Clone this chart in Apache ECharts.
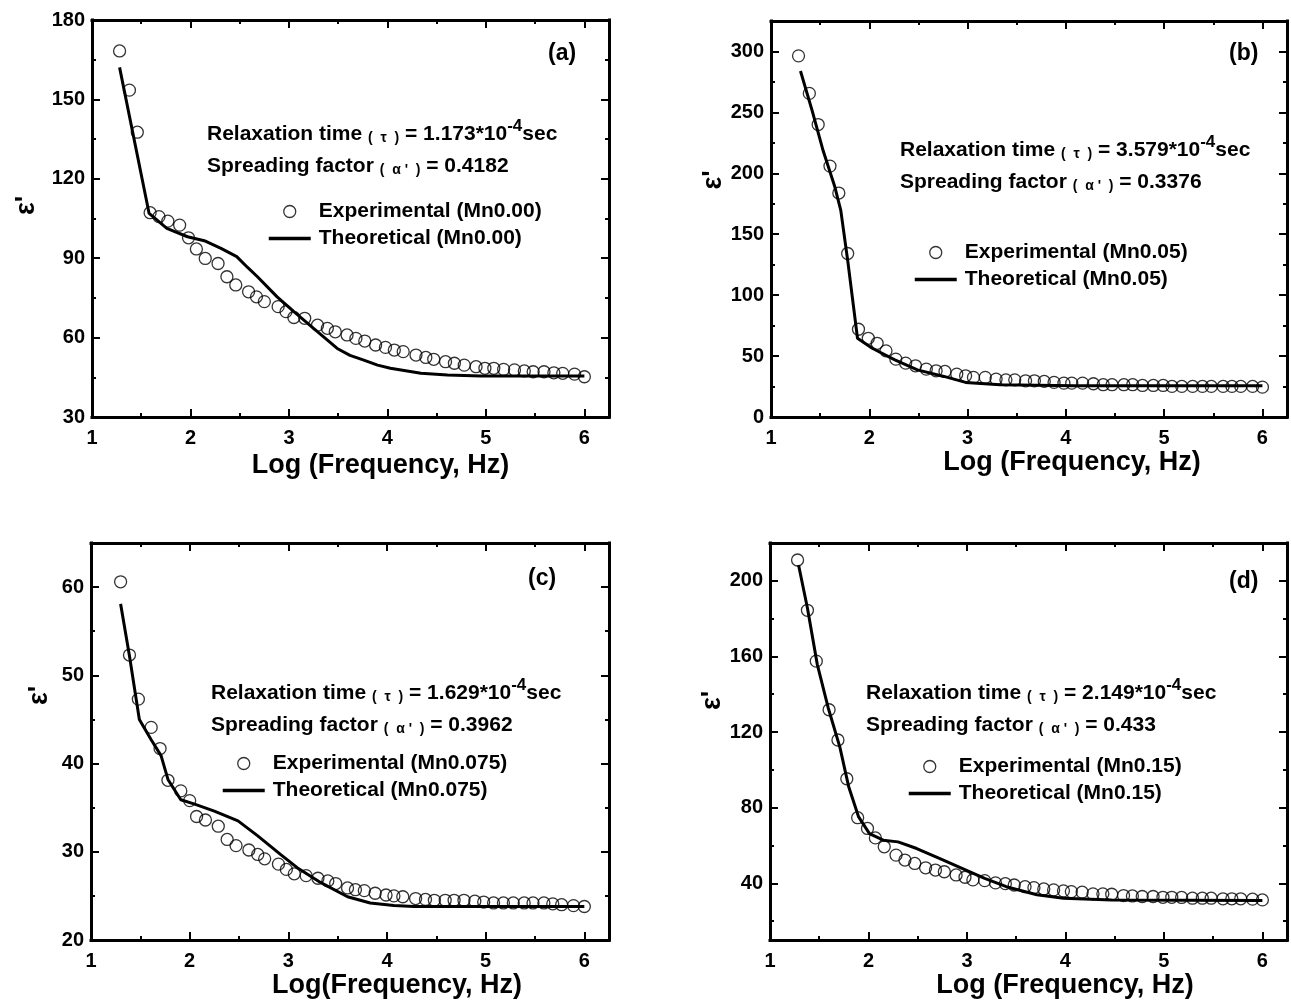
<!DOCTYPE html>
<html><head><meta charset="utf-8">
<script src="https://cdn.jsdelivr.net/npm/echarts@6/dist/echarts.min.js"></script>
<style>html,body{margin:0;padding:0;background:#fff}#c{width:1291px;height:1006px}</style>
</head><body><div id="c"></div>
<script>
// ---------- data ----------
const xTickLabels = [1, 2, 3, 4, 5, 6];
const xMinorTicks = [1.5, 2.5, 3.5, 4.5, 5.5];

const aYTicks = [30, 60, 90, 120, 150, 180];
const aYMinor = [45, 75, 105, 135, 165];
const bYTicks = [0, 50, 100, 150, 200, 250, 300];
const bYMinor = [25, 75, 125, 175, 225, 275];
const cYTicks = [20, 30, 40, 50, 60];
const cYMinor = [25, 35, 45, 55];
const dYTicks = [40, 80, 120, 160, 200];
const dYMinor = [20, 60, 100, 140, 180];

const aExpX = [1.28,1.38,1.46,1.59,1.68,1.77,1.89,1.98,2.06,2.15,2.28,2.37,2.46,2.59,2.67,2.75,2.89,2.97,3.05,3.16,3.29,3.39,3.47,3.59,3.68,3.77,3.88,3.98,4.07,4.16,4.29,4.39,4.47,4.59,4.68,4.78,4.90,4.99,5.08,5.18,5.29,5.39,5.48,5.59,5.69,5.78,5.90,6.00];
const aExpY = [168.3,153.5,137.6,107.2,105.7,104.0,102.5,97.7,93.5,89.9,88.0,83.0,79.9,77.3,75.4,73.6,71.7,69.8,67.6,67.3,64.7,63.5,62.2,61.0,59.7,58.7,57.2,56.3,55.3,54.7,53.4,52.5,51.8,50.9,50.3,49.6,49.0,48.4,48.4,48.0,47.8,47.4,47.1,47.1,46.7,46.5,46.2,45.2];
const aTheoX = [1.28,1.58,1.76,1.97,2.14,2.31,2.47,2.58,2.68,2.88,3.05,3.25,3.49,3.62,3.76,3.90,4.03,4.34,4.61,4.95,6.00];
const aTheoY = [162.1,106.9,101.3,98.1,96.6,93.7,90.6,86.5,83.0,75.4,69.8,63.5,55.9,53.3,51.5,49.6,48.4,46.5,45.9,45.5,45.5];

const bExpX = [1.28,1.39,1.48,1.60,1.69,1.78,1.89,1.99,2.08,2.17,2.27,2.37,2.47,2.58,2.68,2.77,2.89,2.98,3.06,3.18,3.29,3.39,3.48,3.59,3.68,3.78,3.88,3.98,4.06,4.17,4.28,4.38,4.47,4.59,4.68,4.78,4.89,4.99,5.08,5.18,5.29,5.39,5.48,5.60,5.69,5.78,5.90,6.00];
const bExpY = [296.4,265.6,240.0,205.9,183.8,134.2,72.0,64.6,60.5,54.3,47.5,44.2,42.0,39.3,37.9,37.4,35.2,33.8,32.5,32.5,31.1,30.5,30.5,29.7,29.7,29.2,28.4,27.8,27.8,27.8,27.3,26.5,26.5,26.5,26.5,25.9,25.9,25.9,25.1,25.1,25.1,25.1,25.1,25.1,25.1,25.1,25.1,24.5];
const bTheoX = [1.30,1.42,1.53,1.65,1.71,1.78,1.88,2.03,2.26,2.49,2.76,2.98,3.33,4.09,6.00];
const bTheoY = [284.0,251.0,218.7,188.7,169.6,128.7,64.6,56.4,46.9,38.7,33.3,28.4,26.5,25.6,25.6];

const cExpX = [1.30,1.39,1.48,1.61,1.70,1.78,1.91,2.00,2.07,2.16,2.29,2.38,2.47,2.60,2.69,2.76,2.90,2.98,3.06,3.18,3.30,3.40,3.48,3.60,3.68,3.77,3.88,3.99,4.07,4.16,4.29,4.39,4.48,4.59,4.68,4.78,4.89,4.98,5.08,5.18,5.28,5.39,5.48,5.59,5.68,5.77,5.89,6.00];
const cExpY = [60.6,52.3,47.3,44.1,41.7,38.1,36.9,35.8,34.0,33.6,32.9,31.4,30.7,30.2,29.7,29.2,28.6,28.0,27.5,27.3,27.0,26.7,26.4,25.9,25.7,25.6,25.3,25.1,25.0,24.9,24.7,24.6,24.5,24.5,24.5,24.5,24.4,24.3,24.2,24.2,24.2,24.2,24.2,24.2,24.1,24.0,23.9,23.8];
const cTheoX = [1.30,1.39,1.49,1.61,1.71,1.78,1.91,2.05,2.25,2.49,2.69,2.92,3.09,3.33,3.60,3.83,4.07,4.27,6.00];
const cTheoY = [58.1,52.2,45.0,42.7,40.9,38.2,35.9,35.4,34.6,33.5,31.8,29.7,28.2,26.5,24.9,24.2,23.9,23.8,23.8];

const dExpX = [1.28,1.38,1.47,1.60,1.69,1.78,1.89,1.99,2.07,2.16,2.28,2.37,2.47,2.58,2.68,2.77,2.89,2.98,3.06,3.18,3.29,3.39,3.48,3.59,3.68,3.78,3.88,3.98,4.06,4.17,4.28,4.38,4.47,4.59,4.68,4.78,4.89,4.99,5.08,5.18,5.29,5.39,5.48,5.60,5.69,5.78,5.90,6.00];
const dExpY = [211.0,184.4,157.5,131.8,115.8,95.3,74.7,69.0,64.0,59.3,54.9,52.3,50.5,48.2,47.0,46.1,44.4,43.2,41.8,41.4,40.2,39.8,39.1,38.2,37.7,37.0,36.5,36.0,35.6,35.3,34.4,34.4,34.2,33.5,33.3,33.0,33.0,32.6,32.6,32.5,32.1,32.1,32.1,31.8,31.8,31.8,31.6,31.2];
const dTheoX = [1.29,1.38,1.48,1.59,1.71,1.80,1.90,2.01,2.15,2.30,2.49,2.72,2.95,3.18,3.40,3.71,3.98,4.47,6.00];
const dTheoY = [208.4,185.6,155.8,133.0,111.9,90.9,75.1,66.3,62.8,61.9,58.4,53.2,47.9,42.6,38.2,33.9,32.1,31.2,30.9];

const samples = ['Mn0.00', 'Mn0.05', 'Mn0.075', 'Mn0.15'];
const panelTags = ['(a)', '(b)', '(c)', '(d)'];
const tauValues = ['1.173', '3.579', '1.629', '2.149'];
const alphaValues = ['0.4182', '0.3376', '0.3962', '0.433'];
const xNames = ['Log (Frequency, Hz)', 'Log (Frequency, Hz)', 'Log(Frequency, Hz)', 'Log (Frequency, Hz)'];

// ---------- layout / style ----------
const FONT = '"Liberation Sans", Arial, sans-serif';
const panels = [
  { grid: {left: 92, top: 20, width: 517, height: 397}, yMin: 30, yMax: 180, yTicks: aYTicks, yMinor: aYMinor,
    ex: aExpX, ey: aExpY, tx: aTheoX, ty: aTheoY, xPad: 60, xGap: 35, yGap: 52, yPad: 26,
    tag: [548, 42], txt: [207, 118], leg: [267, 201] },
  { grid: {left: 771, top: 21, width: 516, height: 396}, yMin: 0, yMax: 325, yTicks: bYTicks, yMinor: bYMinor,
    ex: bExpX, ey: bExpY, tx: bTheoX, ty: bTheoY, xPad: 86, xGap: 32, yGap: 34, yPad: 78,
    tag: [1229, 42], txt: [900, 134], leg: [913, 242] },
  { grid: {left: 91, top: 543, width: 518, height: 397}, yMin: 20, yMax: 65, yTicks: cYTicks, yMinor: cYMinor,
    ex: cExpX, ey: cExpY, tx: cTheoX, ty: cTheoY, xPad: 94, xGap: 32, yGap: 38, yPad: 92,
    tag: [528, 567], txt: [211, 677], leg: [221, 753] },
  { grid: {left: 770, top: 543, width: 517, height: 397}, yMin: 10, yMax: 220, yTicks: dYTicks, yMinor: dYMinor,
    ex: dExpX, ey: dExpY, tx: dTheoX, ty: dTheoY, xPad: 73, xGap: 31, yGap: 35, yPad: 82,
    tag: [1229, 570], txt: [866, 677], leg: [907, 756] }
];

const lineSt = {color: '#000', width: 3, cap: 'square'};
function tick(vals, len) {
  return {show: true, inside: true, length: len, customValues: vals, lineStyle: {color: '#000', width: 2}};
}
const labelSt = {fontSize: 20, fontWeight: 'bold', color: '#000', fontFamily: FONT};

const xAxis = [], yAxis = [], series = [], title = [], legend = [];
panels.forEach((p, gi) => {
  const base = {gridIndex: gi, type: 'value', splitLine: {show: false}, axisPointer: {show: false}};
  // x axes
  xAxis.push(Object.assign({}, base, {
    position: 'bottom', min: 1, max: 6.25,
    axisLine: {show: true, onZero: false, lineStyle: lineSt},
    axisTick: tick(xTickLabels, 8),
    axisLabel: Object.assign({customValues: xTickLabels, margin: 11}, labelSt),
    name: xNames[gi], nameLocation: 'middle', nameGap: p.xGap,
    nameTextStyle: {fontSize: 27, fontWeight: 'bold', color: '#000', fontFamily: FONT, padding: [0, 0, 0, p.xPad]}
  }));
  xAxis.push(Object.assign({}, base, {position: 'bottom', min: 1, max: 6.25,
    axisLine: {show: false, onZero: false}, axisTick: tick(xMinorTicks, 4), axisLabel: {show: false}}));
  xAxis.push(Object.assign({}, base, {position: 'top', min: 1, max: 6.25,
    axisLine: {show: true, onZero: false, lineStyle: lineSt}, axisTick: tick(xTickLabels, 8), axisLabel: {show: false}}));
  xAxis.push(Object.assign({}, base, {position: 'top', min: 1, max: 6.25,
    axisLine: {show: false, onZero: false}, axisTick: tick(xMinorTicks, 4), axisLabel: {show: false}}));
  // y axes
  yAxis.push(Object.assign({}, base, {
    position: 'left', min: p.yMin, max: p.yMax,
    axisLine: {show: true, onZero: false, lineStyle: lineSt},
    axisTick: tick(p.yTicks, 8),
    axisLabel: Object.assign({customValues: p.yTicks, margin: 7}, labelSt),
    name: "ε'", nameLocation: 'middle', nameGap: p.yGap, nameRotate: 90,
    nameTextStyle: {fontSize: 27, fontWeight: 'bold', color: '#000', fontFamily: FONT, padding: [0, 0, 0, p.yPad]}
  }));
  yAxis.push(Object.assign({}, base, {position: 'left', min: p.yMin, max: p.yMax,
    axisLine: {show: false, onZero: false}, axisTick: tick(p.yMinor, 4), axisLabel: {show: false}}));
  yAxis.push(Object.assign({}, base, {position: 'right', min: p.yMin, max: p.yMax,
    axisLine: {show: true, onZero: false, lineStyle: lineSt}, axisTick: tick(p.yTicks, 8), axisLabel: {show: false}}));
  yAxis.push(Object.assign({}, base, {position: 'right', min: p.yMin, max: p.yMax,
    axisLine: {show: false, onZero: false}, axisTick: tick(p.yMinor, 4), axisLabel: {show: false}}));

  const expName = 'Experimental (' + samples[gi] + ')';
  const theoName = 'Theoretical (' + samples[gi] + ')';
  series.push({
    name: expName, type: 'scatter', xAxisIndex: gi * 4, yAxisIndex: gi * 4,
    symbol: 'circle', symbolSize: 12, z: 3,
    itemStyle: {color: 'rgba(255,255,255,0)', borderColor: '#000', borderWidth: 1.3},
    data: p.ex.map((x, i) => [x, p.ey[i]])
  });
  series.push({
    name: theoName, type: 'line', xAxisIndex: gi * 4, yAxisIndex: gi * 4,
    symbol: 'none', showSymbol: false, z: 2, smooth: false,
    lineStyle: {color: '#000', width: 3}, itemStyle: {color: '#000'},
    data: p.tx.map((x, i) => [x, p.ty[i]])
  });

  legend.push({
    left: p.leg[0], top: p.leg[1], orient: 'vertical', itemWidth: 42, itemHeight: 12, itemGap: 6,
    selectedMode: false, padding: 0,
    textStyle: {fontSize: 21, fontWeight: 'bold', color: '#000', fontFamily: FONT, padding: [0, 0, 0, 3]},
    data: [
      {name: expName, icon: 'circle', itemStyle: {color: 'rgba(255,255,255,0)', borderColor: '#000', borderWidth: 1.3}},
      {name: theoName, itemStyle: {color: 'rgba(0,0,0,0)', borderColor: 'rgba(0,0,0,0)', borderWidth: 0, opacity: 0},
       lineStyle: {color: '#000', width: 3.5}}
    ]
  });

  const rich = {
    n: {fontSize: 21, fontWeight: 'bold', color: '#000', fontFamily: FONT, lineHeight: 27, verticalAlign: 'bottom'},
    s: {fontSize: 14, fontWeight: 'bold', color: '#000', fontFamily: FONT, lineHeight: 23, verticalAlign: 'bottom'},
    p: {fontSize: 17, fontWeight: 'bold', color: '#000', fontFamily: FONT, lineHeight: 17, verticalAlign: 'top'}
  };
  title.push({text: panelTags[gi], left: p.tag[0], top: p.tag[1], padding: 0,
    textStyle: {fontSize: 23, fontWeight: 'bold', color: '#000', fontFamily: FONT}});
  title.push({text: '{n|Relaxation time }{s|(  τ  )}{n| = ' + tauValues[gi] + '*10}{p|-4}{n|sec}',
    left: p.txt[0], top: p.txt[1], padding: 0, textStyle: {rich: rich}});
  title.push({text: "{n|Spreading factor }{s|(  α '  )}{n| = " + alphaValues[gi] + '}',
    left: p.txt[0], top: p.txt[1] + 32, padding: 0, textStyle: {rich: rich}});
});

const chart = echarts.init(document.getElementById('c'), null, {renderer: 'canvas'});
chart.setOption({
  animation: false,
  backgroundColor: '#fff',
  grid: panels.map(p => p.grid),
  xAxis: xAxis, yAxis: yAxis, series: series, title: title, legend: legend
});
</script></body></html>
